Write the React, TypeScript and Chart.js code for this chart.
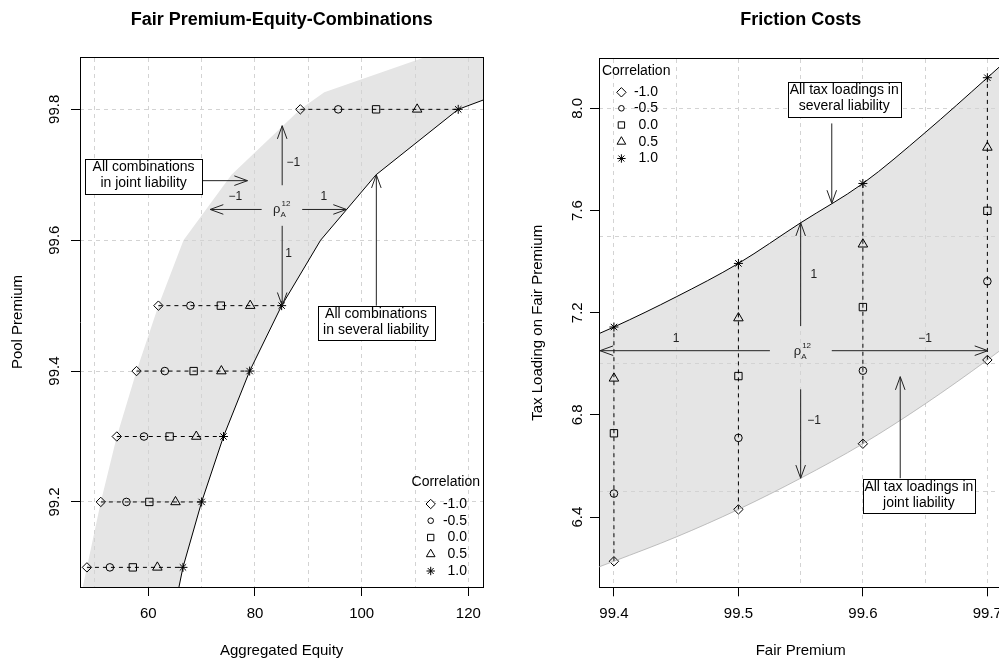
import React, { useEffect, useRef } from 'react';
import { Chart, registerables } from 'chart.js';

Chart.register(...registerables);

const FONT = '"Liberation Sans", Arial, Helvetica, sans-serif';

// ---------------- Left panel: Fair Premium-Equity-Combinations ----------------
const poolPremiumRows = [99.1, 99.2, 99.3, 99.4, 99.5, 99.8];
const equityRhoMinus1 = [48.5, 51.1, 54.1, 57.8, 61.9, 88.5];
const equityRhoMinus05 = [52.8, 55.9, 59.2, 63.1, 67.9, 95.6];
const equityRho0 = [57.1, 60.2, 64.0, 68.5, 73.6, 102.7];
const equityRho05 = [61.7, 65.1, 69.0, 73.7, 79.1, 110.4];
const equityRho1 = [66.5, 70.0, 74.1, 79.0, 85.0, 118.1];

const severalPremium = [99.0, 99.1, 99.2, 99.3, 99.4, 99.5, 99.6, 99.7, 99.8, 99.9];
const severalEquity = [64.0, 66.5, 70.0, 74.1, 79.0, 85.0, 92.3, 102.7, 118.1, 151.0];
const jointPremium = [99.0, 99.1, 99.2, 99.3, 99.4, 99.5, 99.6, 99.7, 99.8, 99.826, 99.9];
const jointEquity = [45.9, 48.5, 51.1, 54.1, 57.8, 61.9, 66.6, 75.6, 88.5, 93.0, 119.0];

const equityTicks = [60, 80, 100, 120];
const equityGrid = [50, 60, 70, 80, 90, 100, 110, 120];
const poolPremiumTicks = [99.2, 99.4, 99.6, 99.8];
const poolPremiumGrid = [99.2, 99.4, 99.6, 99.8];

// ---------------- Right panel: Friction Costs ----------------
const fairPremium = [99.4, 99.5, 99.6, 99.7];
const taxRhoMinus1 = [6.227, 6.43, 6.687, 7.015];
const taxRhoMinus05 = [6.492, 6.71, 6.973, 7.323];
const taxRho0 = [6.728, 6.952, 7.222, 7.599];
const taxRho05 = [6.943, 7.179, 7.468, 7.847];
const taxRho1 = [7.144, 7.393, 7.706, 8.12];

const curvePremium = [99.35, 99.4, 99.45, 99.5, 99.55, 99.6, 99.65, 99.7, 99.75];
const taxSeveralCurve = [7.04, 7.144, 7.262, 7.393, 7.552, 7.706, 7.905, 8.12, 8.34];
const taxJointCurve = [6.135, 6.227, 6.322, 6.43, 6.552, 6.687, 6.843, 7.015, 7.2];

const fairPremiumTicks = [99.4, 99.5, 99.6, 99.7];
const fairPremiumGrid = [99.4, 99.45, 99.5, 99.55, 99.6, 99.65, 99.7];
const taxTicks = [6.4, 6.8, 7.2, 7.6, 8.0];
const taxGrid = [6.5, 7.0, 7.5, 8.0];

const correlationLabels = ['-1.0', '-0.5', '0.0', '0.5', '1.0'];

// ---------------- styling ----------------
const markerStyles = ['rectRot', 'circle', 'rect', 'triangle', 'star'];
const markerRadii = [4.7, 3.8, 5.2, 5.5, 4.5];
const legendRadii = [4.7, 2.8, 4.5, 5.0, 4.2];
const GRID = '#d3d3d3';
const SHADE = '#e5e5e5';

type Arrow = [number, number, number, number];
interface AnnotSpec {
  arrows: Arrow[];
  labels: { text: string; x: number; y: number }[];
  rho: { x: number; y: number };
  boxes: { lines: string[]; x: number; y: number; w: number; h: number }[];
  legend: (a: { left: number; right: number; top: number; bottom: number }) => {
    titleX: number; titleY: number; symX: number; textRight: number; rows: number[];
  };
}

function drawMarker(ctx: CanvasRenderingContext2D, style: string, x: number, y: number, r: number) {
  ctx.beginPath();
  if (style === 'rectRot') {
    ctx.moveTo(x, y - r); ctx.lineTo(x + r, y); ctx.lineTo(x, y + r); ctx.lineTo(x - r, y); ctx.closePath();
  } else if (style === 'circle') {
    ctx.arc(x, y, r, 0, Math.PI * 2);
  } else if (style === 'rect') {
    const s = r * Math.SQRT1_2;
    ctx.rect(x - s, y - s, 2 * s, 2 * s);
  } else if (style === 'triangle') {
    ctx.moveTo(x, y - r); ctx.lineTo(x + 0.866 * r, y + 0.5 * r); ctx.lineTo(x - 0.866 * r, y + 0.5 * r); ctx.closePath();
  } else {
    ctx.moveTo(x - r, y); ctx.lineTo(x + r, y);
    ctx.moveTo(x, y - r); ctx.lineTo(x, y + r);
    const d = r * Math.SQRT1_2;
    ctx.moveTo(x - d, y - d); ctx.lineTo(x + d, y + d);
    ctx.moveTo(x - d, y + d); ctx.lineTo(x + d, y - d);
  }
  ctx.stroke();
}

function drawArrow(ctx: CanvasRenderingContext2D, x1: number, y1: number, x2: number, y2: number) {
  ctx.beginPath(); ctx.moveTo(x1, y1); ctx.lineTo(x2, y2); ctx.stroke();
  const a = Math.atan2(y2 - y1, x2 - x1);
  const L = 14, t = (20 * Math.PI) / 180;
  ctx.beginPath();
  ctx.moveTo(x2 - L * Math.cos(a - t), y2 - L * Math.sin(a - t));
  ctx.lineTo(x2, y2);
  ctx.lineTo(x2 - L * Math.cos(a + t), y2 - L * Math.sin(a + t));
  ctx.stroke();
}

function annotPlugin(spec: AnnotSpec) {
  return {
    id: 'annotations',
    afterDatasetsDraw(chart: any) {
      const ctx: CanvasRenderingContext2D = chart.ctx;
      const xs = chart.scales.x, ys = chart.scales.y;
      const px = (v: number) => xs.getPixelForValue(v);
      const py = (v: number) => ys.getPixelForValue(v);
      ctx.save();
      ctx.lineWidth = 1;
      ctx.strokeStyle = '#222';
      for (const [x1, y1, x2, y2] of spec.arrows) drawArrow(ctx, px(x1), py(y1), px(x2), py(y2));
      ctx.fillStyle = '#222';
      ctx.font = `12px ${FONT}`;
      ctx.textAlign = 'center';
      ctx.textBaseline = 'middle';
      for (const l of spec.labels) ctx.fillText(l.text, px(l.x), py(l.y));
      // rho_A^12
      const cx = px(spec.rho.x), cy = py(spec.rho.y);
      ctx.textAlign = 'left';
      ctx.textBaseline = 'alphabetic';
      ctx.font = `13px ${FONT}`;
      ctx.fillText('\u03C1', cx - 7, cy + 4);
      ctx.font = `8px ${FONT}`;
      ctx.fillText('12', cx + 1.5, cy - 3);
      ctx.fillText('A', cx + 0.5, cy + 7.5);
      // boxes
      ctx.font = `14px ${FONT}`;
      ctx.textAlign = 'center';
      for (const b of spec.boxes) {
        const bx = px(b.x), by = py(b.y);
        ctx.fillStyle = '#fff';
        ctx.fillRect(bx - b.w / 2, by - b.h / 2, b.w, b.h);
        ctx.strokeStyle = '#000';
        ctx.strokeRect(Math.round(bx - b.w / 2) + 0.5, Math.round(by - b.h / 2) + 0.5, Math.round(b.w), Math.round(b.h));
        ctx.fillStyle = '#000';
        ctx.fillText(b.lines[0], bx, by - 5.5);
        ctx.fillText(b.lines[1], bx, by + 10.5);
      }
      // legend
      const lg = spec.legend(chart.chartArea);
      ctx.fillStyle = '#000';
      ctx.strokeStyle = '#000';
      ctx.textBaseline = 'middle';
      ctx.textAlign = 'center';
      ctx.fillText('Correlation', lg.titleX, lg.titleY);
      ctx.textAlign = 'right';
      correlationLabels.forEach((lab, i) => {
        drawMarker(ctx, markerStyles[i], lg.symX, lg.rows[i], legendRadii[i]);
        ctx.fillText(lab, lg.textRight, lg.rows[i]);
      });
      ctx.restore();
    },
  };
}

const pointStyle = {
  showLine: true,
  borderColor: '#000',
  borderWidth: 1,
  borderDash: [4, 4],
  pointStyle: markerStyles,
  pointRadius: markerRadii,
  pointBorderColor: '#000',
  pointBackgroundColor: 'rgba(0,0,0,0)',
  pointBorderWidth: 1,
  fill: false,
};

function axes(o: {
  xMin: number; xMax: number; yMin: number; yMax: number;
  xTicks: number[]; xGrid: number[]; yTicks: number[]; yGrid: number[];
  xFmt: (v: number) => string; yFmt: (v: number) => string;
  xTitle: string; yTitle: string; topH: number; bottomH: number; yTitlePad: number;
}) {
  const tickFont = { size: 15, family: FONT };
  return {
    x: {
      type: 'linear', position: 'bottom', min: o.xMin, max: o.xMax,
      afterBuildTicks: (s: any) => { s.ticks = o.xTicks.map((v) => ({ value: v })); },
      afterFit: (s: any) => { s.height = o.bottomH; },
      grid: { drawOnChartArea: false, drawTicks: true, tickLength: 9, tickColor: '#000', tickWidth: 1 },
      border: { display: true, color: '#000', width: 1 },
      ticks: { color: '#000', font: tickFont, padding: 9, maxRotation: 0, autoSkip: false, callback: (v: number) => o.xFmt(v) },
      title: { display: true, text: o.xTitle, color: '#000', font: tickFont, padding: { top: 0, bottom: 1 } },
    },
    xg: {
      type: 'linear', position: 'top', min: o.xMin, max: o.xMax,
      afterBuildTicks: (s: any) => { s.ticks = o.xGrid.map((v) => ({ value: v })); },
      afterFit: (s: any) => { s.height = o.topH; },
      grid: { drawOnChartArea: true, drawTicks: false, color: GRID, lineWidth: 1 },
      border: { display: true, color: '#000', width: 1, dash: [4, 4] },
      ticks: { display: false },
    },
    y: {
      type: 'linear', position: 'left', min: o.yMin, max: o.yMax,
      afterBuildTicks: (s: any) => { s.ticks = o.yTicks.map((v) => ({ value: v })); },
      afterFit: (s: any) => { s.width = 80; },
      grid: { drawOnChartArea: false, drawTicks: true, tickLength: 9, tickColor: '#000', tickWidth: 1 },
      border: { display: true, color: '#000', width: 1 },
      ticks: {
        color: '#000', font: tickFont, padding: 2, minRotation: 90, maxRotation: 90,
        crossAlign: 'center', autoSkip: false, callback: (v: number) => o.yFmt(v),
      },
      title: { display: true, text: o.yTitle, color: '#000', font: tickFont, padding: { top: o.yTitlePad, bottom: 0 } },
    },
    yg: {
      type: 'linear', position: 'right', min: o.yMin, max: o.yMax,
      afterBuildTicks: (s: any) => { s.ticks = o.yGrid.map((v) => ({ value: v })); },
      afterFit: (s: any) => { s.width = 0; },
      grid: { drawOnChartArea: true, drawTicks: false, color: GRID, lineWidth: 1 },
      border: { display: true, color: '#000', width: 1, dash: [4, 4] },
      ticks: { display: false },
    },
  };
}

function commonOptions(title: string, scales: any) {
  return {
    responsive: false,
    maintainAspectRatio: false,
    animation: false,
    devicePixelRatio: 1,
    events: [],
    layout: { padding: { left: 0, right: 16.7, top: 0, bottom: 0 } },
    scales,
    plugins: {
      legend: { display: false },
      tooltip: { enabled: false },
      filler: { drawTime: 'beforeDraw' },
      title: {
        display: true, text: title, color: '#000', fullSize: false,
        font: { size: 18, weight: 'bold', family: FONT, lineHeight: 1.2 },
        padding: { top: 9, bottom: 0 },
      },
    },
  };
}

function leftConfig(): any {
  const polygon = jointEquity.map((x, i) => ({ x, y: jointPremium[i] }))
    .concat(severalEquity.map((x, i) => ({ x, y: severalPremium[i] })).reverse());
  const rows = poolPremiumRows.map((p, i) => ({
    label: `Premium ${p}`,
    data: [equityRhoMinus1[i], equityRhoMinus05[i], equityRho0[i], equityRho05[i], equityRho1[i]].map((x) => ({ x, y: p })),
    ...pointStyle,
  }));
  return {
    type: 'scatter',
    data: {
      datasets: [
        {
          label: 'joint liability', data: polygon, showLine: true, fill: 'shape',
          backgroundColor: SHADE, borderColor: 'rgba(0,0,0,0)', borderWidth: 1, pointRadius: 0,
        },
        {
          label: 'several liability', data: severalEquity.map((x, i) => ({ x, y: severalPremium[i] })),
          showLine: true, fill: false, borderColor: '#000', borderWidth: 1, pointRadius: 0,
        },
        ...rows,
      ],
    },
    options: commonOptions('Fair Premium-Equity-Combinations', axes({
      xMin: 47.2, xMax: 122.8, yMin: 99.07, yMax: 99.88,
      xTicks: equityTicks, xGrid: equityGrid, yTicks: poolPremiumTicks, yGrid: poolPremiumGrid,
      xFmt: (v) => String(v), yFmt: (v) => v.toFixed(1),
      xTitle: 'Aggregated Equity', yTitle: 'Pool Premium', topH: 26.4, bottomH: 74, yTitlePad: 8.5,
    })),
    plugins: [annotPlugin({
      arrows: [
        [70.0, 99.691, 78.6, 99.691],
        [85.1, 99.684, 85.1, 99.775],
        [81.25, 99.647, 71.6, 99.647],
        [88.85, 99.647, 97.15, 99.647],
        [85.1, 99.622, 85.1, 99.5],
        [102.75, 99.5, 102.75, 99.7],
      ],
      labels: [
        { text: '\u22121', x: 87.2, y: 99.718 },
        { text: '\u22121', x: 76.3, y: 99.667 },
        { text: '1', x: 92.9, y: 99.667 },
        { text: '1', x: 86.3, y: 99.579 },
      ],
      rho: { x: 84.7, y: 99.647 },
      boxes: [
        { lines: ['All combinations', 'in joint liability'], x: 59.12, y: 99.698, w: 117, h: 35 },
        { lines: ['All combinations', 'in several liability'], x: 102.69, y: 99.473, w: 117, h: 34 },
      ],
      legend: (a) => ({
        titleX: a.right - 37.5, titleY: a.bottom - 104.7, symX: a.right - 52.6, textRight: a.right - 16.3,
        rows: [83, 66.3, 49.5, 32.8, 16].map((d) => a.bottom - d),
      }),
    })],
  };
}

function rightConfig(): any {
  const taxByRho = [taxRhoMinus1, taxRhoMinus05, taxRho0, taxRho05, taxRho1];
  const cols = fairPremium.map((fp, i) => ({
    label: `Fair premium ${fp}`,
    data: taxByRho.map((arr) => ({ x: fp, y: arr[i] })),
    ...pointStyle,
  }));
  return {
    type: 'scatter',
    data: {
      datasets: [
        {
          label: 'several liability', data: curvePremium.map((x, i) => ({ x, y: taxSeveralCurve[i] })),
          showLine: true, fill: '+1', backgroundColor: SHADE, borderColor: '#000', borderWidth: 1,
          pointRadius: 0, cubicInterpolationMode: 'monotone',
        },
        {
          label: 'joint liability', data: curvePremium.map((x, i) => ({ x, y: taxJointCurve[i] })),
          showLine: true, fill: false, borderColor: '#b0b0b0', borderWidth: 0.8,
          pointRadius: 0, cubicInterpolationMode: 'monotone',
        },
        ...cols,
      ],
    },
    options: commonOptions('Friction Costs', axes({
      xMin: 99.388, xMax: 99.712, yMin: 6.125, yMax: 8.196,
      xTicks: fairPremiumTicks, xGrid: fairPremiumGrid, yTicks: taxTicks, yGrid: taxGrid,
      xFmt: (v) => v.toFixed(1), yFmt: (v) => v.toFixed(1),
      xTitle: 'Fair Premium', yTitle: 'Tax Loading on Fair Premium', topH: 27.7, bottomH: 73.7, yTitlePad: 9.5,
    })),
    plugins: [annotPlugin({
      arrows: [
        [99.575, 7.941, 99.575, 7.628],
        [99.55, 7.148, 99.55, 7.552],
        [99.5253, 7.0513, 99.3888, 7.0513],
        [99.575, 7.0513, 99.7004, 7.0513],
        [99.55, 6.9, 99.55, 6.552],
        [99.63, 6.552, 99.63, 6.9495],
      ],
      labels: [
        { text: '1', x: 99.5606, y: 7.3476 },
        { text: '1', x: 99.45, y: 7.099 },
        { text: '\u22121', x: 99.65, y: 7.099 },
        { text: '\u22121', x: 99.5608, y: 6.778 },
      ],
      rho: { x: 99.55, y: 7.05 },
      boxes: [
        { lines: ['All tax loadings in', 'several liability'], x: 99.585, y: 8.033, w: 113, h: 35 },
        { lines: ['All tax loadings in', 'joint liability'], x: 99.645, y: 6.482, w: 112, h: 34 },
      ],
      legend: (a) => ({
        titleX: a.left + 37.2, titleY: a.top + 12.4, symX: a.left + 22.4, textRight: a.left + 59,
        rows: [34, 50, 66.7, 83.4, 100.2].map((d) => a.top + d),
      }),
    })],
  };
}

export default function App() {
  const leftRef = useRef<HTMLCanvasElement>(null);
  const rightRef = useRef<HTMLCanvasElement>(null);
  useEffect(() => {
    Chart.defaults.font.family = FONT;
    Chart.defaults.color = '#000';
    const c1 = new Chart(leftRef.current as HTMLCanvasElement, leftConfig());
    const c2 = new Chart(rightRef.current as HTMLCanvasElement, rightConfig());
    return () => { c1.destroy(); c2.destroy(); };
  }, []);
  return (
    <div style={{ position: 'fixed', left: 0, top: 0, width: 999, height: 661, overflow: 'hidden', background: '#fff' }}>
      <canvas ref={leftRef} width={500} height={661} style={{ position: 'absolute', left: 0, top: 0, width: 500, height: 661 }} />
      <canvas ref={rightRef} width={500} height={661} style={{ position: 'absolute', left: 519, top: 0, width: 500, height: 661 }} />
    </div>
  );
}
